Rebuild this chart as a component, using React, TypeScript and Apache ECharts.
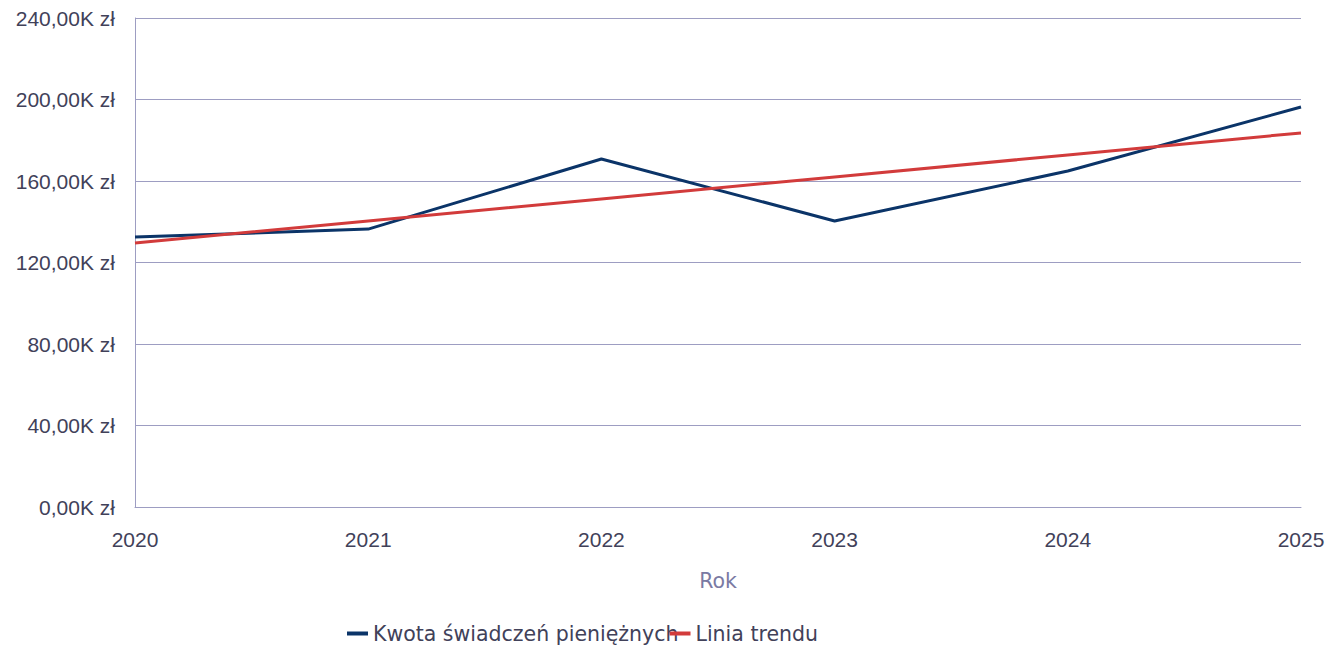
import React, { useEffect, useRef } from "react";
import * as echarts from "echarts";

const years = ["2020", "2021", "2022", "2023", "2024", "2025"];
const kwota = [132500, 136400, 170800, 140400, 164900, 196300];
const trend = [129600, 140400, 151200, 162000, 172800, 183600];
const seriesNames = ["Kwota świadczeń pieniężnych", "Linia trendu"];
const colors = ["#0b3468", "#d23b3b"];

export default function App() {
  const ref = useRef<HTMLDivElement>(null);
  useEffect(() => {
    const chart = echarts.init(ref.current!, null, { renderer: "svg" });
    const font = "Liberation Sans";
    const font2 = "DejaVu Sans";
    const fs = 21;
    chart.setOption({
      animation: false,
      textStyle: { fontFamily: font },
      grid: { left: 135, right: 31, top: 18, bottom: 141 },
      legend: {
        top: 618,
        left: 342,
        icon: "rect",
        itemWidth: 21,
        itemHeight: 4,
        itemGap: -9,
        textStyle: { fontSize: 20.5, color: "#414159", fontFamily: font2 },
        data: seriesNames,
      },
      xAxis: {
        type: "category",
        data: years,
        boundaryGap: false,
        name: "Rok",
        nameLocation: "middle",
        nameGap: 63,
        nameTextStyle: { fontSize: 20.5, color: "#7a7aa3", fontFamily: font2 },
        axisLine: { show: true, lineStyle: { color: "#9d9dc2", width: 1 } },
        axisTick: { show: false },
        axisLabel: { fontSize: fs, color: "#414159", margin: 22, fontFamily: font },
        splitLine: { show: false },
      },
      yAxis: {
        type: "value",
        min: 0,
        max: 240000,
        interval: 40000,
        axisLine: { show: true, lineStyle: { color: "#9d9dc2", width: 1 } },
        axisTick: { show: false },
        axisLabel: {
          fontSize: fs,
          color: "#414159",
          margin: 20,
          fontFamily: font,
          formatter: (v: number) => (v / 1000).toFixed(2).replace(".", ",") + "K zł",
        },
        splitLine: { show: true, lineStyle: { color: "#9d9dc2", width: 1 } },
      },
      series: [
        {
          name: seriesNames[0],
          type: "line",
          data: kwota,
          symbol: "none",
          lineStyle: { color: colors[0], width: 3 },
          itemStyle: { color: colors[0] },
        },
        {
          name: seriesNames[1],
          type: "line",
          data: trend,
          symbol: "none",
          lineStyle: { color: colors[1], width: 3 },
          itemStyle: { color: colors[1] },
        },
      ],
    });
    return () => chart.dispose();
  }, []);
  return (
    <div
      ref={ref}
      style={{ position: "absolute", left: 0, top: 0, width: 1332, height: 648 }}
    />
  );
}
